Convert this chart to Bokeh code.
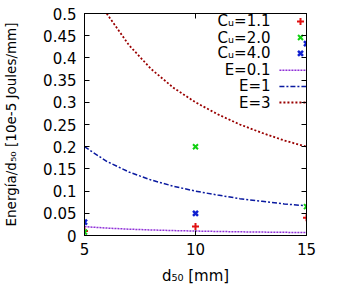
from bokeh.plotting import figure
from bokeh.models import LinearAxis, FixedTicker, Range1d
from bokeh.core.properties import value
from bokeh.embed import file_html
from bokeh.resources import INLINE

# ---- data ----
d50 = [5, 10, 15]
cu11 = [0.01, 0.02, 0.04]
cu20 = [0.008, 0.2, 0.065]
cu40 = [0.03, 0.05, 0.432]

curve_x = [5, 6, 7, 8, 9, 10, 11, 12, 13, 14, 15]
e01 = [0.02, 0.0167, 0.0143, 0.0125, 0.0111, 0.01, 0.0091, 0.0083, 0.0077, 0.0071, 0.0067]
e1 = [0.2, 0.167, 0.143, 0.125, 0.111, 0.1, 0.091, 0.083, 0.077, 0.071, 0.067]
e3_x = [6, 7, 8, 9, 10, 11, 12, 13, 14, 15]
e3 = [0.5, 0.429, 0.375, 0.333, 0.3, 0.273, 0.25, 0.231, 0.214, 0.2]

y_ticks = [0, 0.05, 0.1, 0.15, 0.2, 0.25, 0.3, 0.35, 0.4, 0.45, 0.5]
y_tick_labels = ["0", "0.05", "0.1", "0.15", "0.2", "0.25", "0.3", "0.35", "0.4", "0.45", "0.5"]
x_ticks = [5, 10, 15]

point_labels = ["Cᵤ=1.1", "Cᵤ=2.0", "Cᵤ=4.0"]
line_labels = ["E=0.1", "E=1", "E=3"]

RED = "#e01010"
GREEN = "#10d010"
BLUE = "#1020d0"
PURPLE = "#9030d8"
DBLUE = "#0a1aa0"
DRED = "#9a0000"
FONT = "DejaVu Sans"

p = figure(width=326, height=274, output_backend="svg", toolbar_location=None,
           x_range=Range1d(5, 15), y_range=Range1d(0, 0.5),
           min_border_left=81, min_border_right=23, min_border_top=13, min_border_bottom=39,
           frame_width=222, frame_height=222)
p.xgrid.visible = False
p.ygrid.visible = False
p.outline_line_color = "black"
p.outline_line_width = 1
p.background_fill_color = "white"
p.border_fill_color = "white"

for ax in p.xaxis + p.yaxis:
    ax.major_tick_in = 5
    ax.major_tick_out = 0
    ax.minor_tick_in = 0
    ax.minor_tick_out = 0
    ax.axis_line_color = "black"
    ax.major_label_text_font = FONT
    ax.major_label_text_font_size = "15px"
    ax.major_label_text_color = "black"
    ax.axis_label_text_font = FONT
    ax.axis_label_text_font_style = "normal"
    ax.axis_label_text_color = "black"

p.xaxis.ticker = FixedTicker(ticks=x_ticks)
p.yaxis.ticker = FixedTicker(ticks=y_ticks)
p.yaxis.major_label_overrides = {t: l for t, l in zip(y_ticks, y_tick_labels)}
p.xaxis.axis_label = "d₅₀ [mm]"
p.yaxis.axis_label = "Energía/d₅₀ [10e-5 Joules/mm]"
p.xaxis.axis_label_text_font_size = "15px"
p.yaxis.axis_label_text_font_size = "13.5px"
p.xaxis.major_label_standoff = 7
p.yaxis.major_label_standoff = 8
p.xaxis.axis_label_standoff = 9
p.yaxis.axis_label_standoff = 21

# mirror axes: ticks only, no labels
top = LinearAxis(ticker=FixedTicker(ticks=x_ticks), major_tick_in=5, major_tick_out=0,
                 minor_tick_in=0, minor_tick_out=0,
                 major_label_overrides={t: "" for t in x_ticks}, major_label_standoff=0)
right = LinearAxis(ticker=FixedTicker(ticks=y_ticks), major_tick_in=5, major_tick_out=0,
                   minor_tick_in=0, minor_tick_out=0,
                   major_label_overrides={t: "" for t in y_ticks}, major_label_standoff=0)
p.add_layout(top, "above")
p.add_layout(right, "right")

# curves
p.line(curve_x, e01, line_color=PURPLE, line_width=1.5, line_dash="2 1")
p.line(curve_x, e1, line_color=DBLUE, line_width=1.5, line_dash="5 2 2 2")
p.line(e3_x, e3, line_color=DRED, line_width=1.8, line_dash="2 2")

# points
p.scatter(d50, cu11, marker="cross", size=7, line_color=RED, line_width=2)
p.scatter(d50, cu20, marker="x", size=7, line_color=GREEN, line_width=2)
p.scatter(d50, cu40, marker="x", size=7, line_color=BLUE, line_width=2.5)

# manual key (text right-aligned, sample to the right)
key_text_x = 13.38
key_mark_x = 14.73
key_rows = [0.482, 0.4459, 0.41, 0.372, 0.3356, 0.2995]
labels = point_labels + line_labels
p.text(x=[key_text_x] * 6, y=key_rows, text=labels, text_align="right",
       text_baseline="middle", text_font=value(FONT), text_font_size="15px",
       text_color="black")
p.scatter([key_mark_x], [key_rows[0]], marker="cross", size=7, line_color=RED, line_width=2)
p.scatter([key_mark_x], [key_rows[1]], marker="x", size=7, line_color=GREEN, line_width=2)
p.scatter([key_mark_x], [key_rows[2]], marker="x", size=7, line_color=BLUE, line_width=2.5)
p.line([13.78, 15.5], [key_rows[3]] * 2, line_color=PURPLE, line_width=1.5, line_dash="2 1")
p.line([13.78, 15.5], [key_rows[4]] * 2, line_color=DBLUE, line_width=1.5, line_dash="5 2 2 2")
p.line([13.78, 15.5], [key_rows[5]] * 2, line_color=DRED, line_width=1.8, line_dash="2 2")

open("out.html", "w").write(file_html(p, INLINE))
